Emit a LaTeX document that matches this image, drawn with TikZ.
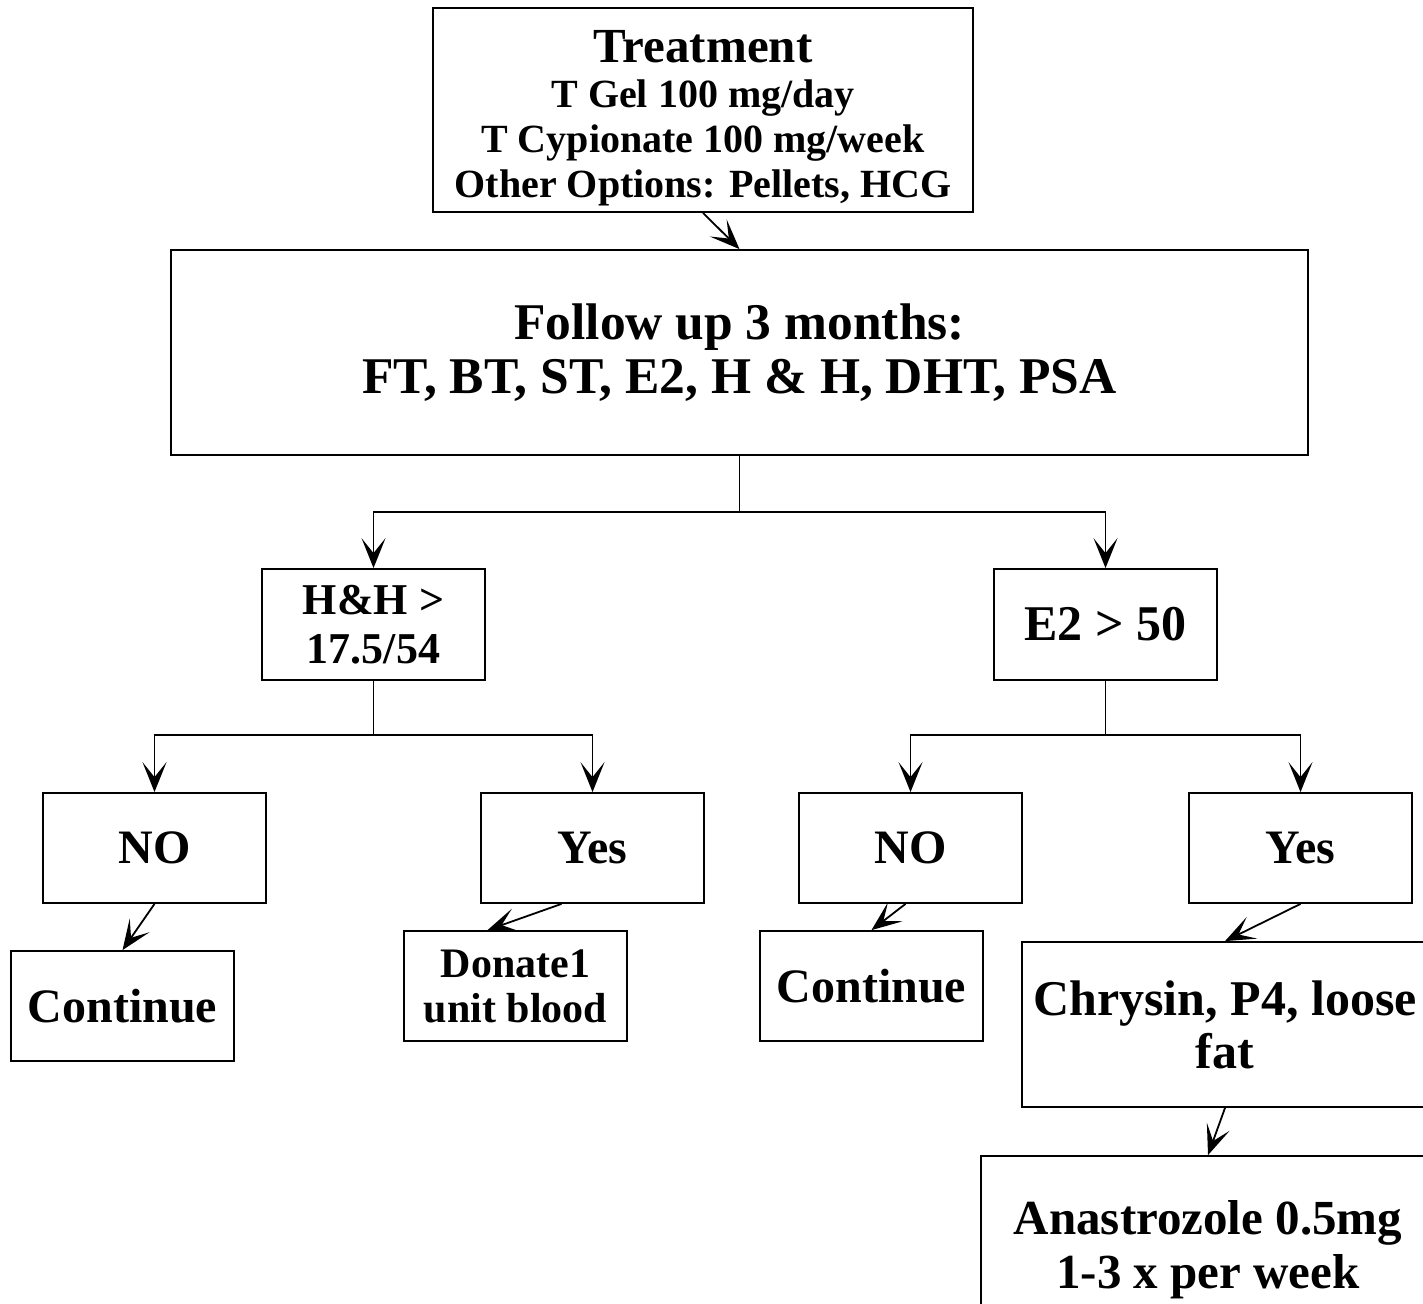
\documentclass[tikz,border=0pt]{standalone}
\usepackage{fontspec}
\setmainfont{Liberation Serif}
\usetikzlibrary{arrows.meta,calc}
\tikzset{
  box/.style={draw, line width=1.8pt, inner sep=0pt, align=center, font=\bfseries},
  arr/.style={line width=1.8pt, -{Stealth[length=30pt,width=24pt,inset=15pt]}},
  ln/.style={line width=1.8pt},
  fs/.style 2 args={font=\bfseries\fontsize{#1}{#2}\selectfont}
}
\begin{document}
\begin{tikzpicture}[x=1pt,y=-1pt]
\useasboundingbox (0,0) rectangle (1423,1303);
\clip (0,0) rectangle (1423,1303);
\node[box, fs={40}{45}, minimum width=540pt, minimum height=204pt] (treat) at (703,110)
  {\rule{0pt}{49pt}{\fontsize{49}{45}\selectfont Treatment}\\ T Gel 100 mg/day\\ T Cypionate 100 mg/week\\ Other Options: Pellets, HCG};
\node[box, fs={51.5}{54}, minimum width=1137pt, minimum height=205pt] (fu) at (739.5,352.5)
  {Follow up 3 months:\\ FT, BT, ST, E2, H \& H, DHT, PSA};
\node[box, fs={44}{49}, minimum width=223pt, minimum height=111pt] (hh) at (373.5,624.5) {H\&H >\\ 17.5/54};
\node[box, fs={50}{54}, minimum width=223pt, minimum height=111pt] (e2) at (1105.5,624.5) {E2 > 50};
\node[box, fs={48}{54}, minimum width=223pt, minimum height=110pt] (no1) at (154.5,848) {NO};
\node[box, fs={48}{54}, minimum width=223pt, minimum height=110pt] (yes1) at (592.5,848) {Yes};
\node[box, fs={48}{54}, minimum width=223pt, minimum height=110pt] (no2) at (910.5,848) {NO};
\node[box, fs={48}{54}, minimum width=223pt, minimum height=110pt] (yes2) at (1300.5,848) {Yes};
\node[box, fs={48}{54}, minimum width=223pt, minimum height=110pt] (cont1) at (122.5,1006) {Continue};
\node[box, fs={42}{45}, minimum width=223pt, minimum height=110pt] (don) at (515.5,986) {Donate1\\ unit blood};
\node[box, fs={48}{54}, minimum width=223pt, minimum height=110pt] (cont2) at (871.5,986) {Continue};
\node[box, fs={50}{53}, minimum width=406pt, minimum height=165pt] (chry) at (1225,1024.5) {Chrysin, P4, loose\\ fat};
\node[box, fs={49}{54}, minimum width=454pt, minimum height=188pt] (ana) at (1208,1250) {Anastrozole 0.5mg\\ 1-3 x per week};
% connectors
\draw[arr] (treat.south) -- (fu.north);
\coordinate (j1) at (739.5,512);
\draw[ln] (fu.south) -- (j1);
\draw[arr] (j1) -| (hh.north);
\draw[arr] (j1) -| (e2.north);
\coordinate (j2) at (373.5,735);
\draw[ln] (hh.south) -- (j2);
\draw[arr] (j2) -| (no1.north);
\draw[arr] (j2) -| (yes1.north);
\coordinate (j3) at (1105.5,735);
\draw[ln] (e2.south) -- (j3);
\draw[arr] (j3) -| (no2.north);
\draw[arr] (j3) -| (yes2.north);
\draw[arr] (no1.south) -- (cont1.north);
\draw[arr] ($(yes1.south)+(-31,0)$) -- ($(don.north)+(-28,0)$);
\draw[arr] ($(no2.south)+(-5,0)$) -- (cont2.north);
\draw[arr] (yes2.south) -- (chry.north);
\draw[arr] (chry.south) -- (ana.north);
\end{tikzpicture}
\end{document}
